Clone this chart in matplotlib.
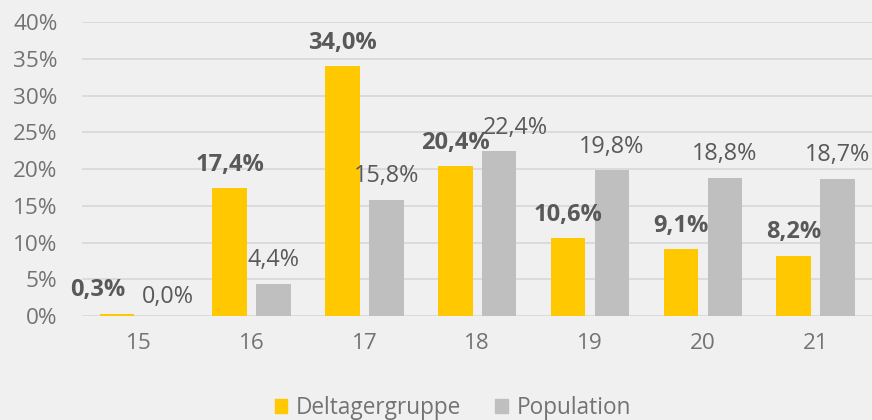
#!/usr/bin/env python3
"""
Age distribution: participant group vs. population, grouped bar chart.
"""
import matplotlib
matplotlib.use("Agg")
import matplotlib.pyplot as plt
import numpy as np
from matplotlib.patches import Patch

# Data
ages = ["15", "16", "17", "18", "19", "20", "21"]
deltager = [0.003, 0.174, 0.340, 0.204, 0.106, 0.091, 0.082]
population = [0.000, 0.044, 0.158, 0.224, 0.198, 0.188, 0.187]
deltager_labels = ["0,3%", "17,4%", "34,0%", "20,4%", "10,6%", "9,1%", "8,2%"]
population_labels = ["0,0%", "4,4%", "15,8%", "22,4%", "19,8%", "18,8%", "18,7%"]
y_ticks = [0, 0.05, 0.10, 0.15, 0.20, 0.25, 0.30, 0.35, 0.40]
y_ticklabels = ["0%", "5%", "10%", "15%", "20%", "25%", "30%", "35%", "40%"]

YELLOW = "#FFC800"
GREY = "#BFBFBF"
BG = "#F0F0F0"
TEXT = "#737373"
LABEL = "#595959"
GRID = "#D9D9D9"

plt.rcParams['font.family'] = ['Open Sans', 'DejaVu Sans']

fig = plt.figure(figsize=(8.72, 4.20), dpi=100, facecolor=BG)
ax = fig.add_axes([0.0946, 0.2476, 0.9054, 0.7])
ax.set_facecolor(BG)

x = np.arange(len(ages))
width = 0.306
offset = 0.195

bars_d = ax.bar(x - offset, deltager, width, color=YELLOW, zorder=3)
bars_p = ax.bar(x + offset, population, width, color=GREY, zorder=3)

# value labels, a few nudged sideways as in the original
d_shift = [-19, 0, 0, 0, 0, 0, 0]
p_shift = [7, 0, 0, 16, 0, 0, 0]
p_drop = [-4, 0, 0, 0, 0, 0, 0]
for i in range(len(ages)):
    ax.annotate(deltager_labels[i], (x[i] - offset, deltager[i]),
                xytext=(d_shift[i] * 0.72, 12.6), textcoords='offset points',
                ha='center', va='baseline', fontsize=17, fontweight='bold',
                color=LABEL, zorder=4)
    ax.annotate(population_labels[i], (x[i] + offset, population[i]),
                xytext=(p_shift[i] * 0.72, 12.6 + p_drop[i] * 0.72),
                textcoords='offset points',
                ha='center', va='baseline', fontsize=16.8,
                color=LABEL, zorder=4)

ax.set_xlim(-0.5, len(ages) - 0.5)
ax.set_ylim(0, 0.40)
ax.set_xticks(x)
ax.set_xticklabels(ages)
ax.set_yticks(y_ticks)
ax.set_yticklabels(y_ticklabels)
ax.tick_params(axis='both', length=0, labelsize=16.2, labelcolor=TEXT)
ax.tick_params(axis='x', pad=12)
ax.tick_params(axis='y', pad=18)
ax.grid(axis='y', color=GRID, linewidth=1.3, zorder=0)
ax.set_axisbelow(True)
for side in ['top', 'right', 'left', 'bottom']:
    ax.spines[side].set_visible(False)

handles = [Patch(color=YELLOW, label="Deltagergruppe"),
           Patch(color=GREY, label="Population")]
fig.legend(handles=handles, loc='center', bbox_to_anchor=(453 / 872, 1 - 408 / 420),
           ncol=2, frameon=False, fontsize=16.3, labelcolor=TEXT,
           handlelength=0.55, handleheight=0.55, handletextpad=0.4,
           columnspacing=1.5)

fig.savefig("out.png", dpi=100, facecolor=BG)
